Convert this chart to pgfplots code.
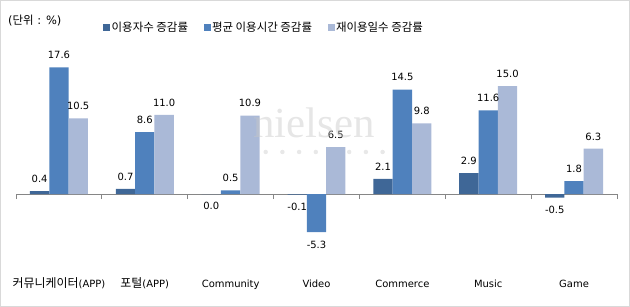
\documentclass[border=0pt]{standalone}
\usepackage{pgfplots}
\pgfplotsset{compat=1.18}
\usepackage{pgfplotstable}
\usepackage{fontspec}
\setmainfont{DejaVu Sans}
\newfontfamily\kr{Noto Sans CJK KR}
\newfontfamily\wmfont{Liberation Serif}
\definecolor{c1}{HTML}{3F6797}
\definecolor{c2}{HTML}{4F81BD}
\definecolor{c3}{HTML}{AAB9D7}
\definecolor{axisgray}{HTML}{868686}
\definecolor{framegray}{HTML}{D9D9D9}

\pgfplotstableread{
x y dir
0 0.4 1
1 0.7 1
2 0.0 -1
3 -0.1 -1
4 2.1 1
5 2.9 1
6 -0.5 -1
}\usersdata
\pgfplotstableread{
x y
0 17.6
1 8.6
2 0.5
3 -5.3
4 14.5
5 11.6
6 1.8
}\timedata
\pgfplotstableread{
x y
0 10.5
1 11.0
2 10.9
3 6.5
4 9.8
5 15.0
6 6.3
}\revisitdata

\begin{document}
\begin{tikzpicture}
\useasboundingbox (0bp,0bp) rectangle (630bp,307bp);
\draw[framegray, line width=1bp] (0.5bp,0.5bp) rectangle (629.5bp,306.5bp);
% watermark dots (behind bars)
\draw[black!9, line width=4.5bp, line cap=round, dash pattern=on 0bp off 16.7bp] (249bp,155bp) -- (395bp,155bp);
% unit label
\node[anchor=west, inner sep=0pt, font=\fontsize{11.5}{13}\selectfont] at (8bp,286bp) {({\kr 단위} : \%)};
\begin{axis}[
  at={(16bp,41bp)}, anchor=south west,
  scale only axis, width=601bp, height=216bp,
  xmin=-0.5, xmax=6.5, ymin=-10, ymax=20,
  clip=false,
  axis y line=none,
  axis x line*=middle,
  x axis line style={axisgray, line width=0.8bp},
  xtick={0,...,6},
  xticklabels={{\kr\fontsize{12}{13}\selectfont 커뮤니케이터}(APP),{\kr\fontsize{12}{13}\selectfont 포털}(APP),Community,Video,Commerce,Music,Game},
  major x tick style={draw=none},
  minor xtick={-0.5,0.5,...,6.5},
  minor x tick style={axisgray, line width=0.8bp},
  xtick align=outside,
  minor tick length=5bp,
  xticklabel style={anchor=base, yshift=-89bp, font=\fontsize{10}{12}\selectfont},
  ybar=0pt, bar width=0.225,
  /pgf/number format/assume math mode=true,
  nodes near coords={\pgfmathprintnumber[fixed,zerofill,precision=1]{\pgfplotspointmeta}},
  nodes near coords style={font=\fontsize{10}{12}\selectfont, inner sep=0pt, outer sep=8.5bp, text=black},
  legend style={at={(0.1398,1.106)}, anchor=west, draw=none, fill=none,
    legend columns=3, font=\kr\fontsize{11.5}{13}\selectfont,
    /tikz/every even column/.append style={column sep=14bp},
    nodes={inner sep=1.5bp}},
  legend image code/.code={\fill[#1] (0bp,-3.5bp) rectangle (7bp,3.5bp);},
]
\addlegendimage{fill=c1, draw=none}
\addlegendentry{이용자수 증감률}
\addlegendimage{fill=c2, draw=none}
\addlegendentry{평균 이용시간 증감률}
\addlegendimage{fill=c3, draw=none}
\addlegendentry{재이용일수 증감률}
\addplot[fill=c1, draw=none,
  visualization depends on={\thisrow{dir}\as\labdir},
  nodes near coords style={anchor={\ifdim\labdir pt>0pt south\else north\fi}}] table[x=x,y=y] {\usersdata};
\addplot[fill=c2, draw=none] table[x=x,y=y] {\timedata};
\addplot[fill=c3, draw=none] table[x=x,y=y] {\revisitdata};
\end{axis}
% watermark text (semi-transparent, over bars)
\node[anchor=base west, inner sep=0pt, text=black!22, opacity=0.45, font=\wmfont\fontsize{43}{43}\selectfont] at (253bp,169.5bp) {nielsen};
\end{tikzpicture}
\end{document}
